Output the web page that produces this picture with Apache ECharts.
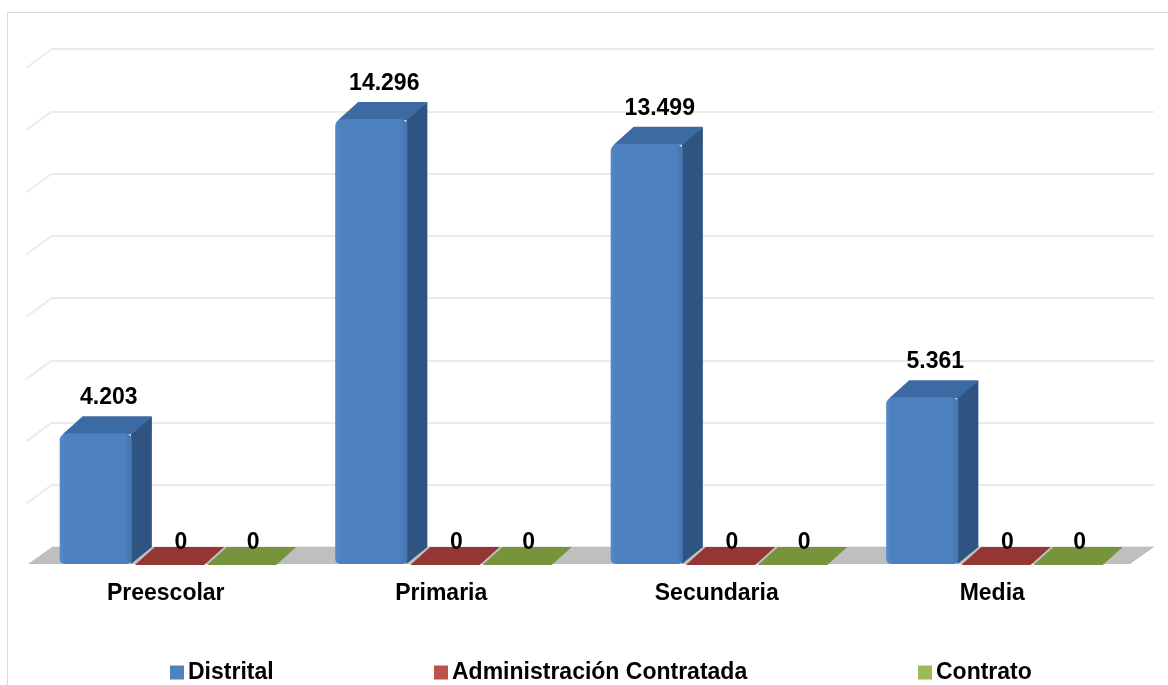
<!DOCTYPE html>
<html>
<head>
<meta charset="utf-8">
<script src="https://cdn.jsdelivr.net/npm/echarts@6/dist/echarts.min.js"></script>
<style>
  html, body { margin: 0; padding: 0; background: #ffffff; }
  #chart { width: 1168px; height: 685px; }
</style>
</head>
<body>
<div id="chart"></div>
<script>
// ---------- data ----------
const categories = ['Preescolar', 'Primaria', 'Secundaria', 'Media'];
const distrital = [4203, 14296, 13499, 5361];
const administracion = [0, 0, 0, 0];
const contrato = [0, 0, 0, 0];
const seriesNames = ['Distrital', 'Administración Contratada', 'Contrato'];
const gridTicks = [2000, 4000, 6000, 8000, 10000, 12000, 14000, 16000];

// ---------- style ----------
const FONT = '"Liberation Sans", Arial, sans-serif';
const DX = 20, DY = 17;          // bar depth
const FDX = 24, FDY = 17;        // floor / wall depth
const faceColors = [
  { front: '#4D80BE', side: '#2F5482', top: '#3C6AA3', legend: '#4F81BD' },
  { front: '#C0504D', side: '#7A2A28', top: '#943634', legend: '#C0504D' },
  { front: '#9BBB59', side: '#5E7430', top: '#77933C', legend: '#9BBB59' }
];

function fmt(v) {
  return String(v).replace(/\B(?=(\d{3})+(?!\d))/g, '.');
}

function makeBarRender(si) {
  const c = faceColors[si];
  return function (params, api) {
    const ci = api.value(0), v = api.value(1);
    const base = api.coord([ci, 0]);
    const topP = api.coord([ci, v]);
    const bw = api.size([1, 0])[0];
    const w = bw * 0.262;
    const x0 = base[0] - bw * 0.385 + si * w;
    const yb = base[1], yt = topP[1];
    const h = yb - yt;
    const children = [];
    if (h > 0.5) {
      children.push({
        type: 'polygon',
        shape: { points: [[x0 + w - 1, yt], [x0 + w + DX, yt - DY], [x0 + w + DX, yb - DY], [x0 + w - 1, yb]] },
        style: { fill: c.side }
      });
    }
    children.push({
      type: 'polygon',
      shape: { points: [[x0 + 3, yt + 1], [x0 + w, yt + 1], [x0 + w + DX, yt - DY], [x0 + DX + 3, yt - DY]] },
      style: { fill: c.top }
    });
    if (h > 0.5) {
      children.push({
        type: 'rect',
        shape: { x: x0, y: yt, width: w, height: h, r: [7, 7, 5, 5] },
        style: {
          fill: {
            type: 'linear', x: 0, y: 0, x2: 1, y2: 0,
            colorStops: [
              { offset: 0, color: '#5489C8' },
              { offset: 0.08, color: c.front },
              { offset: 0.9, color: c.front },
              { offset: 1, color: '#4473AD' }
            ]
          }
        }
      });
    }
    const labelY = h > 0.5 ? yt - 24 : yb - 10;
    children.push({
      type: 'text',
      style: {
        text: fmt(v),
        x: x0 + w / 2 + 13,
        y: labelY,
        align: 'center',
        verticalAlign: 'bottom',
        font: 'bold 23px ' + FONT,
        fill: '#000000'
      }
    });
    return { type: 'group', children: children };
  };
}

const chart = echarts.init(document.getElementById('chart'), null, { renderer: 'canvas' });

const option = {
  animation: false,
  backgroundColor: '#ffffff',
  graphic: [{
    type: 'rect',
    shape: { x: 7.5, y: 12.5, width: 1250, height: 750 },
    style: { fill: 'none', stroke: '#d9d9d9', lineWidth: 1 },
    silent: true, z: -10
  }],
  legend: [0, 1, 2].map((i) => ({
    data: [seriesNames[i]],
    left: [165, 429, 913][i],
    top: 656,
    itemWidth: 14,
    itemHeight: 14,
    icon: 'rect',
    textStyle: { fontFamily: FONT, fontWeight: 'bold', fontSize: 23, color: '#000', padding: [0, 0, 0, -1] },
    selectedMode: false
  })),
  grid: [
    { left: 28, width: 1102, top: 66, height: 498 },   // front plane
    { left: 52, width: 1102, top: 49, height: 498 }    // back wall
  ],
  xAxis: [
    {
      type: 'category', data: categories, gridIndex: 0,
      axisLine: { show: false }, axisTick: { show: false },
      axisLabel: { margin: 18, fontFamily: FONT, fontWeight: 'bold', fontSize: 23, color: '#000' }
    },
    {
      type: 'category', data: categories, gridIndex: 1, show: false
    }
  ],
  yAxis: [
    { type: 'value', min: 0, max: 16000, interval: 2000, gridIndex: 0, show: false, splitLine: { show: false } },
    {
      type: 'value', min: 0, max: 16000, interval: 2000, gridIndex: 1,
      axisLine: { show: false }, axisTick: { show: false }, axisLabel: { show: false },
      splitLine: { show: true, lineStyle: { color: '#ebebeb', width: 2 } }
    }
  ],
  series: [
    {
      type: 'custom', name: 'wallDiag', xAxisIndex: 0, yAxisIndex: 0, z: 1, silent: true,
      data: gridTicks.map((t) => [0, t]),
      renderItem: function (params, api) {
        const cs = params.coordSys;
        const y = api.coord([0, api.value(1)])[1];
        return {
          type: 'line',
          shape: { x1: cs.x - 2, y1: y + 2, x2: cs.x + FDX, y2: y - FDY },
          style: { stroke: '#ebebeb', lineWidth: 2 }
        };
      }
    },
    {
      type: 'custom', name: 'floor', xAxisIndex: 0, yAxisIndex: 0, z: 2, silent: true,
      data: [[0, 0]],
      renderItem: function (params, api) {
        const cs = params.coordSys;
        const y0 = api.coord([0, 0])[1];
        return {
          type: 'polygon',
          shape: { points: [[cs.x, y0], [cs.x + cs.width, y0], [cs.x + cs.width + FDX, y0 - FDY], [cs.x + FDX, y0 - FDY]] },
          style: { fill: '#bfbfbf' }
        };
      }
    },
    {
      type: 'custom', name: seriesNames[1], xAxisIndex: 0, yAxisIndex: 0, z: 3,
      itemStyle: { color: faceColors[1].legend },
      data: administracion.map((v, i) => [i, v]),
      renderItem: makeBarRender(1)
    },
    {
      type: 'custom', name: seriesNames[2], xAxisIndex: 0, yAxisIndex: 0, z: 3,
      itemStyle: { color: faceColors[2].legend },
      data: contrato.map((v, i) => [i, v]),
      renderItem: makeBarRender(2)
    },
    {
      type: 'custom', name: seriesNames[0], xAxisIndex: 0, yAxisIndex: 0, z: 4,
      itemStyle: { color: faceColors[0].legend },
      data: distrital.map((v, i) => [i, v]),
      renderItem: makeBarRender(0)
    }
  ]
};
chart.setOption(option);
</script>
</body>
</html>
